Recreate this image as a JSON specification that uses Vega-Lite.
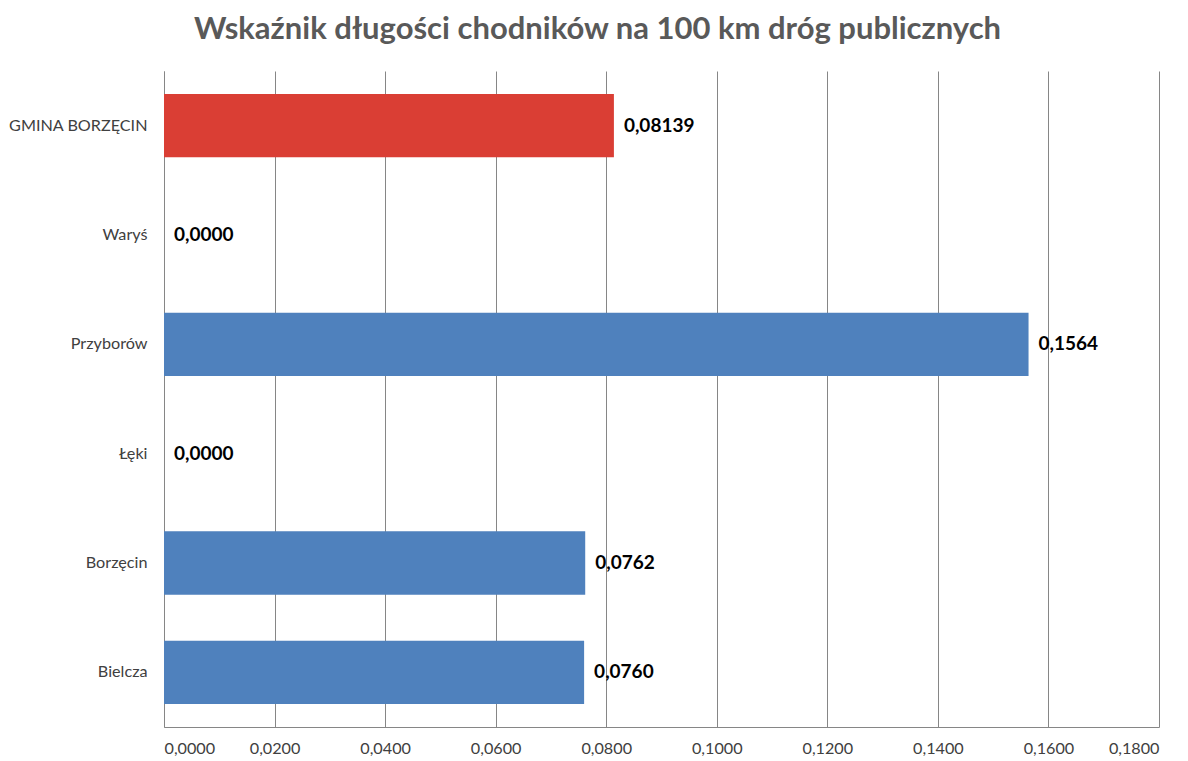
{
  "$schema": "https://vega.github.io/schema/vega-lite/v6.json",
  "autosize": {"type": "none"},
  "width": 995,
  "height": 656,
  "padding": {"left": 164, "top": 71, "right": 29, "bottom": 34},
  "background": "white",
  "title": {
    "text": "Wskaźnik długości chodników na 100 km dróg publicznych",
    "font": "Lato",
    "fontSize": 31,
    "fontWeight": "bold",
    "color": "#595959",
    "anchor": "middle",
    "dx": -64,
    "offset": 25
  },
  "data": {
    "values": [
      {"miejscowosc": "GMINA BORZĘCIN", "wskaznik": 0.08139, "etykieta": "0,08139", "typ": "gmina"},
      {"miejscowosc": "Waryś", "wskaznik": 0.0, "etykieta": "0,0000", "typ": "solectwo"},
      {"miejscowosc": "Przyborów", "wskaznik": 0.1564, "etykieta": "0,1564", "typ": "solectwo"},
      {"miejscowosc": "Łęki", "wskaznik": 0.0, "etykieta": "0,0000", "typ": "solectwo"},
      {"miejscowosc": "Borzęcin", "wskaznik": 0.0762, "etykieta": "0,0762", "typ": "solectwo"},
      {"miejscowosc": "Bielcza", "wskaznik": 0.076, "etykieta": "0,0760", "typ": "solectwo"}
    ]
  },
  "encoding": {
    "y": {
      "field": "miejscowosc",
      "type": "nominal",
      "sort": null,
      "scale": {"paddingInner": 0.42, "paddingOuter": 0.21},
      "axis": {
        "title": null,
        "ticks": false,
        "domain": true,
        "domainColor": "#868686",
        "domainWidth": 1,
        "labelFont": "Lato",
        "labelFontSize": 16.2,
        "labelColor": "#404040",
        "labelPadding": 17,
        "grid": false
      }
    },
    "x": {
      "field": "wskaznik",
      "type": "quantitative",
      "scale": {"domain": [0, 0.18], "nice": false},
      "axis": {
        "title": null,
        "values": [0, 0.02, 0.04, 0.06, 0.08, 0.1, 0.12, 0.14, 0.16, 0.18],
        "labelExpr": "replace(format(datum.value, '.4f'), '.', ',')",
        "ticks": false,
        "domain": true,
        "domainColor": "#868686",
        "grid": true,
        "gridColor": "#868686",
        "gridWidth": 1,
        "labelFont": "Lato",
        "labelFontSize": 16.2,
        "labelColor": "#404040",
        "labelPadding": 13
      }
    }
  },
  "layer": [
    {
      "mark": {"type": "bar"},
      "encoding": {
        "color": {
          "field": "typ",
          "type": "nominal",
          "scale": {"domain": ["gmina", "solectwo"], "range": ["#DA3E34", "#4F81BD"]},
          "legend": null
        }
      }
    },
    {
      "mark": {"type": "text", "align": "left", "baseline": "middle", "dx": 10, "font": "Lato", "fontSize": 19, "fontWeight": "bold", "color": "#000000"},
      "encoding": {"text": {"field": "etykieta"}}
    }
  ],
  "config": {"view": {"stroke": null}}
}
